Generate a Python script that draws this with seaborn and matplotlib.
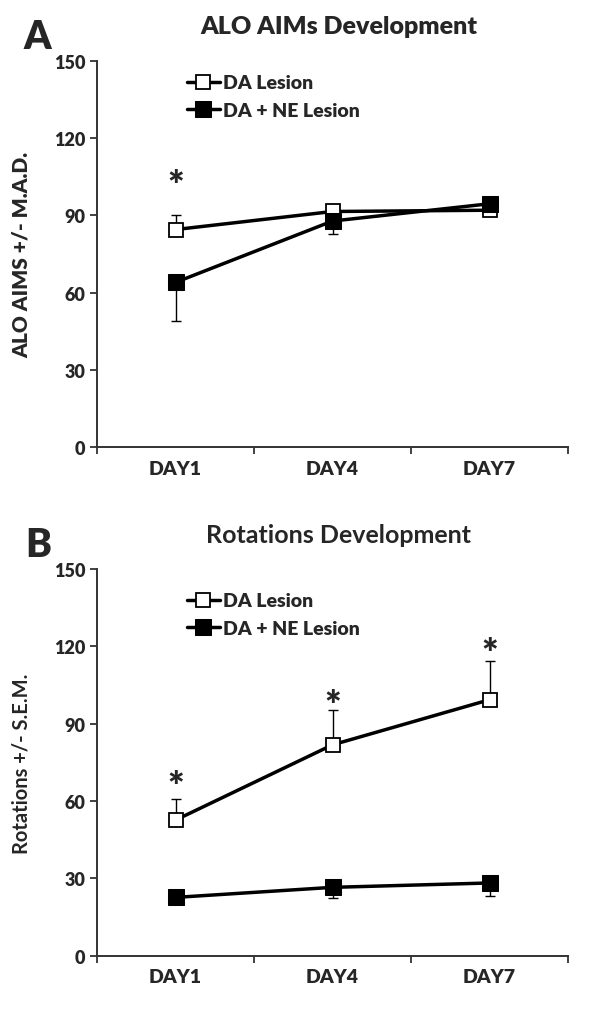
import pandas as pd
import matplotlib
matplotlib.use("Agg")
import matplotlib.pyplot as plt
import seaborn as sns

sns.set_style("ticks")
plt.rcParams["font.family"] = ["Lato", "DejaVu Sans"]

days = ["DAY1", "DAY4", "DAY7"]
groups = ["DA Lesion", "DA + NE Lesion"]

# panel A - ALO AIMs (+/- M.A.D.)
aims_da = [84.5, 91.5, 92]
aims_da_err = [5.5, 0, 0]      # drawn upward
aims_ne = [64, 87.8, 94.5]
aims_ne_err = [15, 5, 0]       # drawn downward
aims_stars = [105.5, None, None]

# panel B - rotations (+/- S.E.M.)
rot_da = [52.6, 81.8, 99.3]
rot_da_err = [8, 13.5, 15]
rot_ne = [22.6, 26.5, 28.2]
rot_ne_err = [1, 4, 5]
rot_stars = [69.5, 101, 121]

BOLD = "heavy"


def draw_panel(ax, da, da_err, ne, ne_err, stars, title, ylabel, letter, heavy, leg_y):
    df = pd.DataFrame({
        "day": days * 2,
        "value": da + ne,
        "group": [groups[0]] * 3 + [groups[1]] * 3,
    })
    zero = [0, 0, 0]
    ax.errorbar(days, da, yerr=[zero, da_err], fmt="none", ecolor="black",
                elinewidth=1, capsize=3.5, capthick=1, zorder=2)
    ax.errorbar(days, ne, yerr=[ne_err, zero], fmt="none", ecolor="black",
                elinewidth=1, capsize=3.5, capthick=1, zorder=2)

    sns.lineplot(data=df[df["group"] == groups[0]], x="day", y="value", ax=ax,
                 color="black", linewidth=2.5, marker="s", markersize=10,
                 markerfacecolor="white", markeredgecolor="black",
                 markeredgewidth=1.3, label=groups[0], zorder=3)
    sns.lineplot(data=df[df["group"] == groups[1]], x="day", y="value", ax=ax,
                 color="black", linewidth=2.5, marker="s", markersize=11,
                 markerfacecolor="black", markeredgecolor="black",
                 label=groups[1], zorder=4)

    # significance stars (glyph sits high in its box, so nudge it down)
    for i, s in enumerate(stars):
        if s is not None:
            ax.annotate("*", xy=(i, s), xytext=(0, -8), textcoords="offset points",
                        ha="center", va="center", fontsize=28, fontweight=BOLD)

    ax.set_xlim(-0.5, 2.5)
    ax.set_ylim(0, 150)
    ax.set_yticks(range(0, 151, 30))
    ax.set_xticks([-0.5, 0.5, 1.5, 2.5], minor=True)
    ax.set_xlabel("")
    ax.set_ylabel(ylabel, fontsize=15 if heavy else 14.5,
                  fontweight=BOLD if heavy else "bold")
    ax.yaxis.set_label_coords(-0.14, 0.5)
    ax.tick_params(axis="x", which="major", length=0, labelsize=14, pad=9)
    ax.tick_params(axis="x", which="minor", length=5, width=1.3, color="#333333")
    ax.tick_params(axis="y", length=5, width=1.3, color="#333333", labelsize=13)
    for lab in ax.get_xticklabels() + ax.get_yticklabels():
        lab.set_fontweight(BOLD)
    sns.despine(ax=ax)
    for sp in ["left", "bottom"]:
        ax.spines[sp].set_linewidth(1.4)
        ax.spines[sp].set_color("#333333")

    ax.legend(loc="upper left", bbox_to_anchor=(0.17, leg_y), frameon=False,
              handlelength=1.7, handletextpad=0.15, labelspacing=0.55,
              borderpad=0, prop={"size": 14, "weight": BOLD})

    fig = ax.figure
    pos = ax.get_position()
    fig.text(0.565, pos.y1 + 0.034, title, ha="center", va="center",
             fontsize=18, fontweight=BOLD if heavy else "bold")
    fig.text(0.063, pos.y1 + 0.006, letter, ha="center", va="bottom",
             fontsize=28, fontweight=BOLD)


fig = plt.figure(figsize=(6, 10.12), dpi=100)
ax_a = fig.add_axes([0.1617, 0.557, 0.785, 0.382])
ax_b = fig.add_axes([0.1617, 0.0547, 0.785, 0.382])

draw_panel(ax_a, aims_da, aims_da_err, aims_ne, aims_ne_err, aims_stars,
           "ALO AIMs Development", "ALO AIMS +/- M.A.D.", "A", True, 0.99)
draw_panel(ax_b, rot_da, rot_da_err, rot_ne, rot_ne_err, rot_stars,
           "Rotations Development", "Rotations +/- S.E.M.", "B", False, 0.965)

fig.savefig("out.png", dpi=100)
